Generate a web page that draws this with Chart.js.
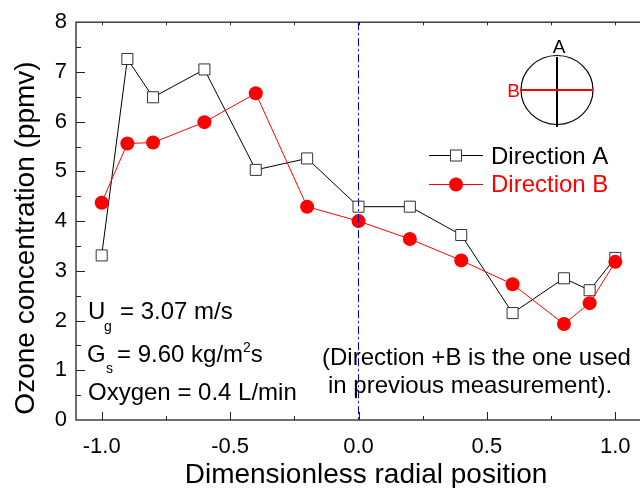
<!DOCTYPE html>
<html>
<head>
<meta charset="utf-8">
<script src="https://cdn.jsdelivr.net/npm/chart.js@4.4.1/dist/chart.umd.min.js"></script>
<style>
html, body { margin: 0; padding: 0; background: #fff; overflow: hidden; }
</style>
</head>
<body>
<canvas id="chart" width="660" height="488"></canvas>
<script>
// radial positions and ozone readings (ppmv)
var positions = [-1.0, -0.9, -0.8, -0.6, -0.4, -0.2, 0.0, 0.2, 0.4, 0.6, 0.8, 0.9, 1.0];
var directionA = [3.31, 7.26, 6.49, 7.05, 5.03, 5.26, 4.29, 4.29, 3.72, 2.15, 2.85, 2.61, 3.26];
var directionB = [4.37, 5.56, 5.58, 5.99, 6.57, 4.29, 4.00, 3.64, 3.21, 2.73, 1.93, 2.35, 3.18];
var xTicks = [-1.0, -0.5, 0.0, 0.5, 1.0];
var yTicks = [0, 1, 2, 3, 4, 5, 6, 7, 8];

var FONT = '"Liberation Sans", Arial, sans-serif';

function toPoints(xs, ys) {
	return xs.map(function(x, i) { return { x: x, y: ys[i] }; });
}

// frame, inward ticks, zero line, titles, notes and legend
var decor = {
	id: 'decor',
	afterDatasetsDraw: function(chart) {
		var ctx = chart.ctx, a = chart.chartArea, xs = chart.scales.x;
		var x0 = xs.getPixelForValue(0);
		ctx.save();
		ctx.strokeStyle = '#0000cc';
		ctx.lineWidth = 1;
		ctx.setLineDash([8, 3, 2, 3]);
		ctx.beginPath();
		ctx.moveTo(x0, a.top);
		ctx.lineTo(x0, a.bottom);
		ctx.stroke();
		ctx.restore();
	},
	afterDraw: function(chart) {
		var ctx = chart.ctx, a = chart.chartArea;
		var xs = chart.scales.x, ys = chart.scales.y;
		ctx.save();

		// frame
		ctx.strokeStyle = '#222';
		ctx.lineWidth = 1.3;
		ctx.strokeRect(a.left, a.top, a.right - a.left, a.bottom - a.top);

		// ticks pointing in
		ctx.lineWidth = 1;
		ctx.beginPath();
		for (var v = -1.0; v <= 1.001; v += 0.25) {
			var px = Math.round(xs.getPixelForValue(v)) + 0.5;
			var major = Math.abs(v * 2 - Math.round(v * 2)) < 0.01;
			ctx.moveTo(px, a.bottom);
			ctx.lineTo(px, a.bottom - (major ? 8 : 4));
			ctx.moveTo(px, a.top);
			ctx.lineTo(px, a.top + 3);
		}
		for (var w = 0.5; w < 8; w += 0.5) {
			var py = Math.round(ys.getPixelForValue(w)) + 0.5;
			var maj = Math.abs(w - Math.round(w)) < 0.01;
			ctx.moveTo(a.left, py);
			ctx.lineTo(a.left + (maj ? 9 : 5), py);
		}
		ctx.stroke();

		// axis titles
		ctx.fillStyle = '#000';
		ctx.font = '28px ' + FONT;
		ctx.textAlign = 'center';
		ctx.textBaseline = 'alphabetic';
		ctx.fillText('Dimensionless radial position', 366, 483);
		ctx.save();
		ctx.translate(34, 238);
		ctx.rotate(-Math.PI / 2);
		ctx.fillText('Ozone concentration (ppmv)', 0, 0);
		ctx.restore();

		// operating conditions
		ctx.textAlign = 'left';
		ctx.font = '24px ' + FONT;
		ctx.fillText('U', 88, 319);
		ctx.font = '14px ' + FONT;
		ctx.fillText('g', 104, 331);
		ctx.font = '24px ' + FONT;
		ctx.fillText('= 3.07 m/s', 120, 319);

		ctx.fillText('G', 87, 362);
		ctx.font = '14px ' + FONT;
		ctx.fillText('s', 106, 373);
		ctx.font = '24px ' + FONT;
		var t = '= 9.60 kg/m';
		ctx.fillText(t, 117, 362);
		var ex = 117 + ctx.measureText(t).width;
		ctx.font = '14px ' + FONT;
		ctx.fillText('2', ex, 352);
		ex += ctx.measureText('2').width;
		ctx.font = '24px ' + FONT;
		ctx.fillText('s', ex, 362);

		ctx.fillText('Oxygen = 0.4 L/min', 88, 400);

		ctx.fillText('(Direction +B is the one used', 322, 365);
		ctx.fillText('in previous measurement).', 328, 393);

		// legend
		ctx.lineWidth = 1;
		ctx.strokeStyle = '#000';
		ctx.beginPath();
		ctx.moveTo(429, 155.5); ctx.lineTo(483, 155.5);
		ctx.stroke();
		ctx.fillStyle = '#fff';
		ctx.strokeStyle = '#333';
		ctx.fillRect(450.5, 150, 11, 11);
		ctx.strokeRect(450.5, 150, 11, 11);
		ctx.fillStyle = '#000';
		ctx.fillText('Direction A', 491, 163.5);

		ctx.strokeStyle = '#ff0000';
		ctx.fillStyle = '#ff0000';
		ctx.beginPath();
		ctx.moveTo(429, 184.5); ctx.lineTo(483, 184.5);
		ctx.stroke();
		ctx.beginPath();
		ctx.arc(456, 184.5, 7, 0, Math.PI * 2);
		ctx.fill();
		ctx.fillText('Direction B', 491, 192);

		// direction sketch
		ctx.strokeStyle = '#000';
		ctx.lineWidth = 1.2;
		ctx.beginPath();
		ctx.ellipse(557, 90, 36, 34.5, 0, 0, Math.PI * 2);
		ctx.stroke();
		ctx.lineWidth = 2;
		ctx.beginPath();
		ctx.moveTo(557, 57); ctx.lineTo(557, 127);
		ctx.stroke();
		ctx.strokeStyle = '#ff0000';
		ctx.beginPath();
		ctx.moveTo(520, 90); ctx.lineTo(593, 90);
		ctx.stroke();
		ctx.font = '19px ' + FONT;
		ctx.fillStyle = '#000';
		ctx.textAlign = 'center';
		ctx.fillText('A', 559, 53);
		ctx.fillStyle = '#ff0000';
		ctx.textAlign = 'right';
		ctx.fillText('B', 520, 97);

		ctx.restore();
	}
};

var data = {
	datasets: [
		{
			label: 'Direction A',
			data: toPoints(positions, directionA),
			borderColor: '#000',
			borderWidth: 1,
			pointStyle: 'rect',
			pointRadius: 7.8,
			pointBackgroundColor: '#fff',
			pointBorderColor: '#333',
			pointBorderWidth: 1,
			fill: false,
			order: 2
		},
		{
			label: 'Direction B',
			data: toPoints(positions, directionB),
			borderColor: '#ff0000',
			borderWidth: 1,
			pointStyle: 'circle',
			pointRadius: 7,
			pointBackgroundColor: '#ff0000',
			pointBorderColor: '#ff0000',
			pointBorderWidth: 0,
			fill: false,
			order: 1
		}
	]
};

var options = {
	responsive: false,
	animation: false,
	clip: false,
	layout: { padding: { top: 17, right: 19, left: 0, bottom: 0 } },
	plugins: {
		legend: { display: false },
		tooltip: { enabled: false }
	},
	scales: {
		x: {
			type: 'linear',
			min: -1.1,
			max: 1.1,
			afterBuildTicks: function(s) { s.ticks = xTicks.map(function(v) { return { value: v }; }); },
			afterFit: function(s) { s.height = 68; },
			grid: { display: false, drawTicks: false },
			border: { display: false },
			ticks: {
				color: '#000',
				padding: 14,
				maxRotation: 0,
				autoSkip: false,
				font: { family: FONT, size: 22 },
				callback: function(v) { return Number(v).toFixed(1); }
			}
		},
		y: {
			min: 0,
			max: 8,
			afterBuildTicks: function(s) { s.ticks = yTicks.map(function(v) { return { value: v }; }); },
			afterFit: function(s) { s.width = 76; },
			grid: { display: false, drawTicks: false },
			border: { display: false },
			ticks: {
				color: '#000',
				padding: 9,
				autoSkip: false,
				font: { family: FONT, size: 22 }
			}
		}
	}
};

new Chart(document.getElementById('chart'), {
	type: 'line',
	data: data,
	options: options,
	plugins: [decor]
});
</script>
</body>
</html>
